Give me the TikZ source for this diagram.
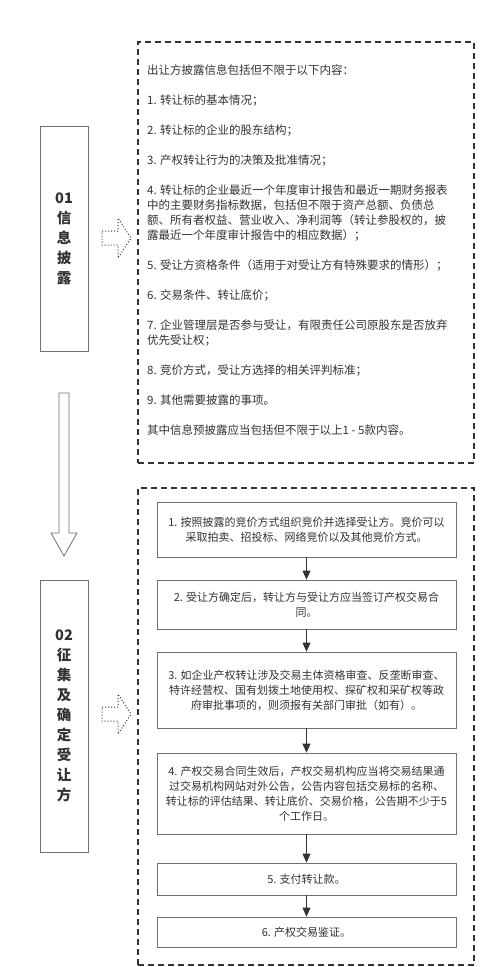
\documentclass[tikz,border=0pt]{standalone}
\usepackage{fontspec}
\setmainfont{Noto Sans CJK SC}
\usetikzlibrary{arrows.meta}
\definecolor{ink}{HTML}{333333}
\definecolor{frame}{HTML}{707070}
\tikzset{
  stagebox/.style={draw=frame, line width=0.9pt, minimum width=48pt, align=center, inner sep=0pt,
    text=ink, font=\fontsize{14.5}{20}\selectfont\bfseries},
  dashbox/.style={draw=ink, line width=1.6pt, dash pattern=on 6pt off 4pt, minimum width=336pt, inner sep=0pt},
  flowbox/.style={draw=frame, line width=0.8pt, minimum width=299pt, align=center, inner sep=0pt,
    text=ink, font=\fontsize{11}{15}\selectfont},
  flowarrow/.style={draw=ink, line width=0.8pt, -{Triangle[length=9pt,width=8pt]}},
  hintarrow/.style={draw=ink, dotted, line width=1pt},
  listtext/.style={align=left, inner sep=0pt, anchor=north west, text=ink, font=\fontsize{11.5}{15}\selectfont}
}
\begin{document}
\begin{tikzpicture}[x=1pt,y=-1pt]
\useasboundingbox[fill=white] (0,0) rectangle (500,967);

% stages on the left
\node[stagebox, minimum height=225pt] (stage1) at (64,238.5) {01\\信\\息\\披\\露};
\node[stagebox, minimum height=272pt] (stage2) at (64,716) {02\\征\\集\\及\\确\\定\\受\\让\\方};

% hollow arrow between the stages
\draw[frame, line width=0.8pt, fill=white]
  (59,393) -- (69,393) -- (69,533) -- (77,533) -- (64,556) -- (51,533) -- (59,533) -- cycle;

% dotted hint arrows
\foreach \yy in {238,714}
{
  \draw[hintarrow] (102,\yy-7) -- (118,\yy-7) -- (118,\yy-20) -- (131,\yy) -- (118,\yy+20)
    -- (118,\yy+7) -- (102,\yy+7) -- cycle;
}

% disclosure content
\node[dashbox, minimum height=421pt] (info) at (306,252.5) {};
\node[listtext] (infotext) at (147,65) {出让方披露信息包括但不限于以下内容：\\[15pt]
1. 转让标的基本情况；\\[15pt]
2. 转让标的企业的股东结构；\\[15pt]
3. 产权转让行为的决策及批准情况；\\[15pt]
4. 转让标的企业最近一个年度审计报告和最近一期财务报表\\
中的主要财务指标数据，包括但不限于资产总额、负债总\\
额、所有者权益、营业收入、净利润等（转让参股权的，披\\
露最近一个年度审计报告中的相应数据）；\\[15pt]
5. 受让方资格条件（适用于对受让方有特殊要求的情形）；\\[15pt]
6. 交易条件、转让底价；\\[15pt]
7. 企业管理层是否参与受让，有限责任公司原股东是否放弃\\
优先受让权；\\[15pt]
8. 竞价方式，受让方选择的相关评判标准；\\[15pt]
9. 其他需要披露的事项。\\[15pt]
其中信息预披露应当包括但不限于以上1 - 5款内容。};

% procedure
\node[dashbox, minimum height=477pt] (proc) at (306,726.5) {};
\node[flowbox, minimum height=55pt] (s1) at (306.5,529.5)
  {1. 按照披露的竞价方式组织竞价并选择受让方。竞价可以\\采取拍卖、招投标、网络竞价以及其他竞价方式。};
\node[flowbox, minimum height=49pt] (s2) at (306.5,604.5)
  {2. 受让方确定后，转让方与受让方应当签订产权交易合\\同。};
\node[flowbox, minimum height=76pt] (s3) at (306.5,690)
  {3. 如企业产权转让涉及交易主体资格审查、反垄断审查、\\特许经营权、国有划拨土地使用权、探矿权和采矿权等政\\府审批事项的，则须报有关部门审批（如有）。};
\node[flowbox, minimum height=81pt] (s4) at (306.5,793.5)
  {4. 产权交易合同生效后，产权交易机构应当将交易结果通\\过交易机构网站对外公告，公告内容包括交易标的名称、\\转让标的评估结果、转让底价、交易价格，公告期不少于5\\个工作日。};
\node[flowbox, minimum height=32pt] (s5) at (306.5,879) {5. 支付转让款。};
\node[flowbox, minimum height=30pt] (s6) at (306.5,932) {6. 产权交易鉴证。};

\draw[flowarrow] (s1) -- (s2);
\draw[flowarrow] (s2) -- (s3);
\draw[flowarrow] (s3) -- (s4);
\draw[flowarrow] (s4) -- (s5);
\draw[flowarrow] (s5) -- (s6);
\end{tikzpicture}
\end{document}
